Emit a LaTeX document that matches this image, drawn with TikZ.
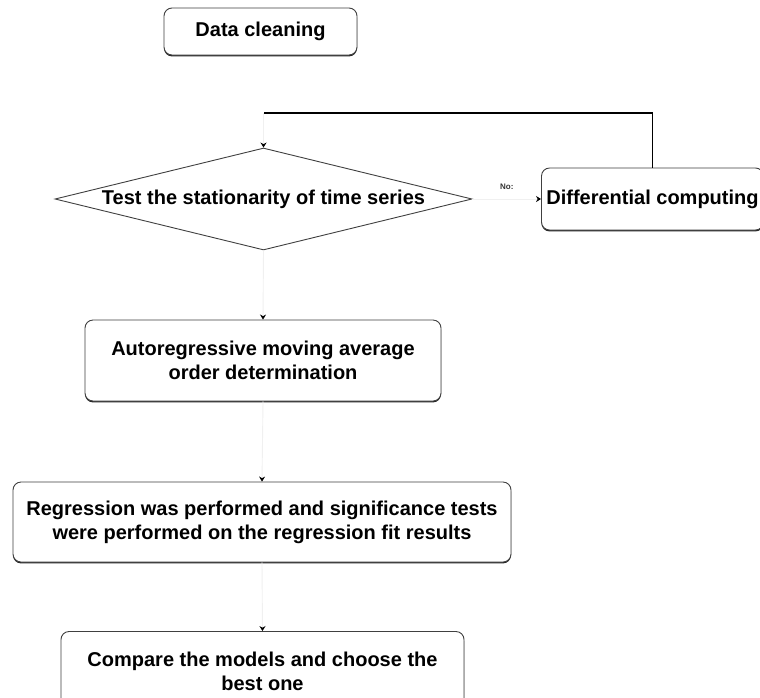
\documentclass[tikz,border=0pt]{standalone}
\usepackage{fontspec}
\setmainfont{Liberation Sans}
\usetikzlibrary{arrows.meta,shapes.geometric,shadows}
\begin{document}
\begin{tikzpicture}[x=1pt,y=-1pt,
  txt/.style={font=\fontsize{20}{24}\selectfont\bfseries, align=center, inner sep=0pt},
  box/.style={txt, draw=black!75, line width=0.9pt, rounded corners=8pt, fill=white,
    drop shadow={shadow xshift=0pt, shadow yshift=-1.4pt, fill=black!85, opacity=1}},
  decision/.style={txt, draw=black!75, line width=0.9pt, shape=diamond, aspect=4.09,
    minimum width=417pt, minimum height=102pt, fill=white},
  conn/.style={draw=black!6, line width=0.9pt, -{Stealth[length=5pt,width=6pt,color=black]}},
  fbline/.style={draw=black, line width=1.6pt},
  lbl/.style={font=\fontsize{8}{9}\selectfont\bfseries, text=black!80, inner sep=1pt}
]
\fill[white] (0,0) rectangle (760,697);
\useasboundingbox (0,0) rectangle (760,697);

\node[box, minimum width=193pt, minimum height=47pt] (clean) at (260.5,31.5) {Data cleaning};
\node[decision] (test) at (263.5,199) {Test the stationarity of time series};
\node[box, minimum width=222pt, minimum height=62pt, drop shadow={opacity=0}] (diff) at (652.5,199) {Differential computing};
\node[box, minimum width=356pt, minimum height=81pt] (auto) at (263,360.5) {Autoregressive moving average\\order determination};
\node[box, minimum width=498pt, minimum height=80pt] (reg) at (262,522) {Regression was performed and significance tests\\were performed on the regression fit results};
\node[box, minimum width=403pt, minimum height=80pt] (cmp) at (262.5,671.5) {Compare the models and choose the\\best one};

\coordinate (fb) at (263.5,113);
\draw[fbline] (diff.north) |- (fb);
\draw[conn] (fb) -- (test.north);
\draw[conn] (test.east) -- node[lbl, midway, above=8pt] {No:} (diff.west);
\draw[conn] (test.south) -- (auto.north);
\draw[conn] (auto.south) -- (reg.north);
\draw[conn] (reg.south) -- (cmp.north);
\end{tikzpicture}
\end{document}
